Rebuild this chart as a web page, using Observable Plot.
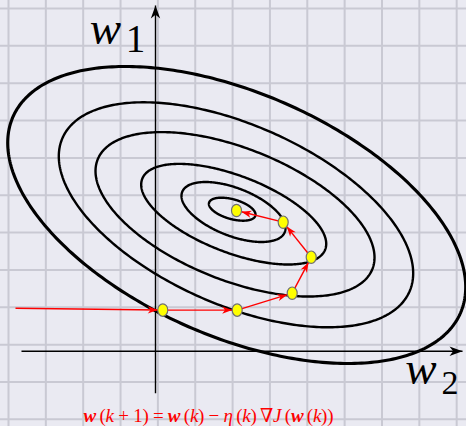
<!DOCTYPE html>
<html>
<head>
<meta charset="utf-8">
<script src="https://cdn.jsdelivr.net/npm/d3@7"></script>
<script src="https://cdn.jsdelivr.net/npm/@observablehq/plot@0.6"></script>
<style>
html, body { margin: 0; padding: 0; background: #eaeaf2; }
#chart svg { display: block; }
</style>
</head>
<body>
<div id="chart"></div>
<script>
// Level sets of the cost J(w) in the (w2, w1) plane, one ellipse per level:
// centre, half-width, half-height, and tilt (slope of the line through the left/right extremes)
const levelCx    = [2.054, 2.088, 2.094, 2.129, 2.155, 2.174];
const levelCy    = [3.802, 3.727, 3.668, 3.665, 3.652, 3.647];
const levelHalfW = [0.624, 1.392, 2.477, 3.735, 4.744, 6.131];
const levelHalfH = [0.308, 0.803, 1.347, 2.201, 3.012, 3.976];
const levelTilt  = [0.23, 0.31, 0.32, 0.31, 0.33, 0.315];

// Gradient-descent iterates w(k) = (w2, w1)
const iterW2 = [0.195, 2.187, 3.66, 4.169, 3.419, 2.169];
const iterW1 = [1.10, 1.10, 1.553, 2.517, 3.454, 3.767];
// the step arriving at w(0) from the left
const approachW2 = -3.748, approachW1 = 1.151;

// Axis extents
const w2AxisFrom = -3.588, w2AxisTo = 8.22;
const w1AxisFrom = -1.124, w1AxisTo = 9.256;

// Graph-paper lines
const paperW2 = [-3.936, -2.936, -1.936, -0.936, 0.064, 1.064, 2.064, 3.064, 4.064, 5.064, 6.064, 7.064, 8.064];
const paperW1 = [9.175, 8.175, 7.175, 6.175, 5.175, 4.175, 3.175, 2.175, 1.175, 0.175, -0.825, -1.825];

const updateRule = "w(k+1) = w(k) − η(k)∇J(w(k))";

// ---- layout constants ----
const W = 466, H = 426, unit = 37.35;          // pixels per unit, same on both axes
const xDomain = [-155 / unit, (W - 155) / unit];
const yDomain = [(350.7 - H) / unit, 350.7 / unit];
const dotRx = 5, dotRy = 6.2;                   // iterate marker radii (px)

// ---- derived tables ----
const contour = [];
levelCx.forEach((cx, i) => {
  const hw = levelHalfW[i], hh = levelHalfH[i];
  const l21 = -levelTilt[i] * hw;
  const l22 = Math.sqrt(hh * hh - l21 * l21);
  for (let j = 0; j <= 360; j++) {
    const t = 2 * Math.PI * j / 360;
    contour.push({level: i, w2: cx + hw * Math.cos(t), w1: levelCy[i] + l21 * Math.cos(t) + l22 * Math.sin(t)});
  }
});
const outer = levelCx.length - 1;

const iterates = iterW2.map((w2, k) => ({k, w2, w1: iterW1[k]}));

// a segment ending where it meets the target marker (or at the given end), with its heading
function segment(x1, y1, x2, y2, stopAtDot) {
  const dx = x2 - x1, dy = y2 - y1, len = Math.hypot(dx, dy);
  const ux = dx / len, uy = dy / len;
  const back = stopAtDot ? 1 / Math.hypot(ux / dotRx, uy / dotRy) / unit : 0;
  return {x1, y1, x2: x2 - ux * back, y2: y2 - uy * back, angle: Math.atan2(-uy, ux) * 180 / Math.PI};
}
const steps = [segment(approachW2, approachW1, iterW2[0], iterW1[0], true)];
for (let k = 1; k < iterates.length; k++) {
  steps.push(segment(iterW2[k - 1], iterW1[k - 1], iterW2[k], iterW1[k], true));
}
const axes = [
  segment(w2AxisFrom, 0, w2AxisTo, 0, false),
  segment(0, w1AxisFrom, 0, w1AxisTo, false)
];

// upright oval marker for the iterates
const oval = {
  draw(ctx, size) {
    const r = Math.sqrt(size / Math.PI);
    const rx = r * dotRx / dotRy, ry = r, c = 0.5523;
    ctx.moveTo(rx, 0);
    ctx.bezierCurveTo(rx, ry * c, rx * c, ry, 0, ry);
    ctx.bezierCurveTo(-rx * c, ry, -rx, ry * c, -rx, 0);
    ctx.bezierCurveTo(-rx, -ry * c, -rx * c, -ry, 0, -ry);
    ctx.bezierCurveTo(rx * c, -ry, rx, -ry * c, rx, 0);
    ctx.closePath();
  }
};
// filled stealth arrowhead, tip at the origin, pointing right
const stealth = {
  draw(ctx, size) {
    const L = Math.sqrt(size / Math.PI);
    ctx.moveTo(0, 0);
    ctx.lineTo(-L, -0.36 * L);
    ctx.lineTo(-0.72 * L, 0);
    ctx.lineTo(-L, 0.36 * L);
    ctx.closePath();
  }
};

const serif = "'Liberation Serif', 'DejaVu Serif', serif";

const chart = Plot.plot({
  width: W,
  height: H,
  margin: 0,
  style: {background: "#eaeaf2", overflow: "visible"},
  x: {domain: xDomain, axis: null},
  y: {domain: yDomain, axis: null},
  marks: [
    Plot.ruleX(paperW2, {stroke: "#c9c9d3", strokeWidth: 2}),
    Plot.ruleY(paperW1, {stroke: "#c9c9d3", strokeWidth: 2}),
    Plot.link(axes, {x1: "x1", y1: "y1", x2: "x2", y2: "y2", stroke: "black", strokeWidth: 1.4}),
    Plot.dot(axes, {x: "x2", y: "y2", rotate: "angle", r: 13, symbol: stealth, fill: "black", stroke: "none"}),
    Plot.line(contour.filter(d => d.level < outer), {x: "w2", y: "w1", z: "level", stroke: "black", strokeWidth: 2.4}),
    Plot.line(contour.filter(d => d.level === outer), {x: "w2", y: "w1", stroke: "black", strokeWidth: 3.1}),
    Plot.link(steps, {x1: "x1", y1: "y1", x2: "x2", y2: "y2", stroke: "red", strokeWidth: 1.4}),
    Plot.dot(steps, {x: "x2", y: "y2", rotate: "angle", r: 10, symbol: stealth, fill: "red", stroke: "none"}),
    Plot.dot(iterates, {x: "w2", y: "w1", r: dotRy, symbol: oval, fill: "#ffff00", stroke: "#707070", strokeWidth: 1.2}),
    // axis names
    Plot.text(["w"], {x: 0, y: w1AxisTo, dx: -50, dy: 38.3, text: d => d, fontSize: 47, fontStyle: "italic", fontFamily: serif, lineAnchor: "bottom", textAnchor: "middle", fill: "black"}),
    Plot.text(["1"], {x: 0, y: w1AxisTo, dx: -20, dy: 46.7, text: d => d, fontSize: 39, fontFamily: serif, lineAnchor: "bottom", textAnchor: "middle", fill: "black"}),
    Plot.text(["w"], {x: w2AxisTo, y: 0, dx: -41.5, dy: 32.6, text: d => d, fontSize: 47, fontStyle: "italic", fontFamily: serif, lineAnchor: "bottom", textAnchor: "middle", fill: "black"}),
    Plot.text(["2"], {x: w2AxisTo, y: 0, dx: -12.5, dy: 42.6, text: d => d, fontSize: 34, fontFamily: serif, lineAnchor: "bottom", textAnchor: "middle", fill: "black"}),
    // update rule
    Plot.text([updateRule], {frameAnchor: "bottom", dx: -25, dy: -5, text: d => d, fontSize: 19, fontFamily: serif, lineAnchor: "bottom", textAnchor: "middle", fill: "red"})
  ]
});

// typeset the update rule with bold-italic vectors and italic scalars
const ruleNode = Array.from(chart.querySelectorAll("text")).find(t => t.textContent === updateRule);
if (ruleNode) {
  const ruleText = d3.select(ruleNode);
  ruleText.text(null);
  const parts = [
    ["w", "bi"], ["\u2009(", ""], ["k", "i"], [" + 1) = ", ""],
    ["w", "bi"], ["\u2009(", ""], ["k", "i"], [") − ", ""],
    ["η", "i"], ["\u2009(", ""], ["k", "i"], [")\u2009∇", ""], ["J", "i"],
    ["\u2009(", ""], ["w", "bi"], ["\u2009(", ""], ["k", "i"], ["))", ""]
  ];
  for (const [s, style] of parts) {
    const t = ruleText.append("tspan").text(s);
    if (style.includes("i")) t.attr("font-style", "italic");
    if (style.includes("b")) t.attr("font-weight", "bold");
  }
  ruleText.attr("textLength", 250).attr("lengthAdjust", "spacing");
}

document.getElementById("chart").append(chart);
</script>
</body>
</html>
